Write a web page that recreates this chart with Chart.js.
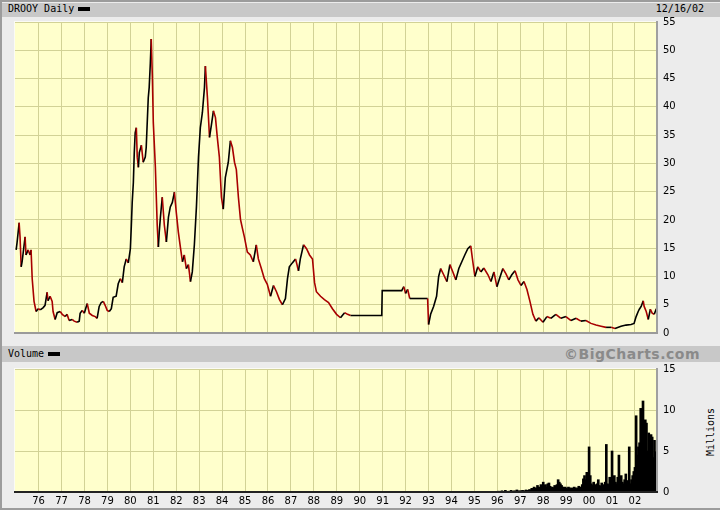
<!DOCTYPE html>
<html><head><meta charset="utf-8">
<script src="https://cdn.jsdelivr.net/npm/chart.js@4/dist/chart.umd.min.js"></script>
<style>
html,body{margin:0;padding:0;}
body{width:720px;height:510px;background:#ececec;position:relative;overflow:hidden;font-family:"DejaVu Sans Mono",monospace;}
.abs{position:absolute;}
.hdr{position:absolute;left:2px;right:0;background:#c8c8c8;}
.mono{font-family:"DejaVu Sans Mono",monospace;font-size:10px;color:#000;white-space:nowrap;}
canvas{position:absolute;left:0;}
</style>
</head><body>
<div class="abs" style="left:0;top:0;width:720px;height:2px;background:#9c9c9c"></div>
<div class="abs" style="left:0;top:0;width:2px;height:510px;background:#9c9c9c"></div>
<div class="abs" style="left:0;top:508px;width:720px;height:2px;background:#9c9c9c"></div>
<div class="hdr" style="top:3px;height:14px"></div>
<div class="abs mono" style="left:8px;top:2px;line-height:14px">DROOY Daily</div>
<div class="abs" style="left:78px;top:7px;width:12px;height:4px;background:#000"></div>
<div class="abs mono" style="right:16px;top:2px;line-height:14px">12/16/02</div>
<div class="hdr" style="top:346px;height:16px"></div>
<div class="abs mono" style="left:8px;top:347px;line-height:14px">Volume</div>
<div class="abs" style="left:48px;top:352px;width:12px;height:4px;background:#000"></div>
<div class="abs" style="right:20px;top:346px;line-height:16px;font-family:'DejaVu Sans',sans-serif;font-weight:bold;font-size:14px;letter-spacing:0.5px;color:#8a8a8a">©BigCharts.com</div>
<div class="abs mono" style="left:710px;top:432px;transform:translate(-50%,-50%) rotate(-90deg);">Millions</div>
<canvas id="price" width="720" height="345" style="top:0"></canvas>
<canvas id="vol" width="720" height="165" style="top:345px"></canvas>
<script>
const yearTicks = [1976,1977,1978,1979,1980,1981,1982,1983,1984,1985,1986,1987,1988,1989,1990,1991,1992,1993,1994,1995,1996,1997,1998,1999,2000,2001,2002];
const yearLabels = ['76','77','78','79','80','81','82','83','84','85','86','87','88','89','90','91','92','93','94','95','96','97','98','99','00','01','02'];
const xMin = 1974.97, xMax = 2002.96;
const priceTicks = [0,5,10,15,20,25,30,35,40,45,50,55];
const volTicks = [0,5,10,15];

const priceYears = [1975.02,1975.06,1975.15,1975.19,1975.24,1975.28,1975.41,1975.45,1975.54,1975.63,1975.67,1975.72,1975.80,1975.89,1975.98,
1976.07,1976.20,1976.28,1976.37,1976.41,1976.50,1976.59,1976.63,1976.72,1976.81,1976.94,
1977.03,1977.16,1977.24,1977.33,1977.46,1977.55,1977.68,1977.77,1977.81,1977.90,1977.99,
1978.12,1978.21,1978.34,1978.47,1978.55,1978.64,1978.73,1978.82,1978.90,1978.99,
1979.08,1979.17,1979.25,1979.38,1979.47,1979.56,1979.65,1979.73,1979.82,1979.91,
1980.00,1980.04,1980.08,1980.13,1980.17,1980.21,1980.26,1980.30,1980.35,1980.39,1980.48,1980.56,1980.65,1980.69,1980.78,1980.82,1980.87,1980.91,1980.96,
1981.00,1981.09,1981.17,1981.22,1981.26,1981.31,1981.39,1981.48,1981.57,1981.66,1981.74,1981.83,1981.92,
1982.00,1982.09,1982.18,1982.27,1982.35,1982.44,1982.53,1982.62,1982.70,1982.79,1982.88,1982.97,
1983.05,1983.14,1983.23,1983.27,1983.36,1983.45,1983.53,1983.62,1983.71,1983.79,1983.88,1983.97,
1984.05,1984.14,1984.27,1984.36,1984.45,1984.54,1984.62,1984.71,1984.80,1984.89,1984.97,
1985.10,1985.23,1985.36,1985.49,1985.58,1985.71,1985.84,1985.97,
1986.11,1986.24,1986.37,1986.50,1986.63,1986.76,1986.85,1986.93,
1987.06,1987.20,1987.33,1987.41,1987.55,1987.68,1987.81,1987.94,
1988.03,1988.11,1988.29,1988.46,1988.64,1988.81,1988.99,
1989.16,1989.34,1989.47,1989.60,1989.73,1990.96,1990.98,
1991.83,1991.92,1992.00,1992.09,1992.18,1992.96,
1993.00,1993.09,1993.22,1993.35,1993.44,1993.53,1993.66,1993.80,1993.93,
1994.06,1994.19,1994.32,1994.45,1994.58,1994.71,1994.84,1994.93,
1995.02,1995.15,1995.28,1995.41,1995.59,1995.72,1995.85,1995.98,
1996.11,1996.24,1996.37,1996.50,1996.63,1996.77,1996.90,
1997.03,1997.16,1997.29,1997.42,1997.55,1997.68,1997.81,1997.99,
1998.16,1998.33,1998.55,1998.77,1998.99,1999.21,1999.43,1999.64,1999.86,
2000.08,2000.30,2000.52,2000.74,2000.96,2001.13,2001.39,2001.61,2001.83,2001.96,
2002.05,2002.14,2002.19,2002.27,2002.36,2002.40,2002.49,2002.58,2002.67,2002.75,2002.84,2002.93,2002.96];
const priceValues = [14.7,16.0,19.5,17.0,11.7,12.6,17.0,13.8,14.7,13.8,14.7,9.6,5.6,3.8,4.3,
4.1,4.5,4.9,7.2,5.7,6.5,5.6,3.8,2.4,3.6,3.8,
3.3,2.9,3.3,2.2,2.4,2.1,1.9,2.1,3.5,4.0,3.5,
5.2,3.5,3.1,2.9,2.6,4.7,5.4,5.6,4.9,4.0,
3.8,4.3,6.3,6.5,8.7,9.6,8.9,11.7,13.1,12.4,
14.9,18.8,23.1,26.6,31.9,35.4,36.3,31.1,29.3,31.9,33.2,30.2,31.1,32.8,41.6,43.4,47.7,52.0,45.1,
37.2,29.3,19.1,15.2,17.9,20.5,24.0,19.1,16.1,20.5,22.3,23.1,24.9,
21.4,17.9,15.2,12.6,13.8,11.4,12.1,9.1,10.8,15.6,22.3,31.1,
36.3,39.0,43.4,47.2,41.6,34.6,36.7,39.3,38.1,34.6,31.1,24.0,
21.9,27.5,30.2,34.0,32.8,30.2,28.9,24.0,20.1,18.4,17.0,
14.3,13.8,12.6,15.6,13.1,11.4,9.6,8.6,
6.5,8.4,7.3,5.9,5.0,6.1,9.6,11.7,
12.4,13.1,11.0,13.1,15.6,14.9,13.8,13.1,
8.9,7.3,6.5,5.9,5.4,4.3,3.3,
2.7,3.6,3.3,3.1,3.1,3.1,7.5,
7.5,8.2,7.0,7.7,6.1,6.1,
1.5,3.3,4.7,6.5,10.0,11.4,10.3,9.1,12.1,
10.8,9.4,11.4,12.6,13.8,14.9,15.4,12.6,
10.0,11.7,10.8,11.5,10.3,9.1,10.8,8.2,
9.8,11.4,10.5,9.4,10.3,11.0,9.4,
8.4,9.1,7.7,5.6,3.3,2.1,2.7,1.9,
2.9,2.6,3.3,2.6,2.9,2.2,2.6,2.1,2.2,
1.7,1.4,1.2,1.0,1.0,0.8,1.2,1.4,1.5,1.7,
2.9,3.8,4.2,4.7,5.7,4.7,3.8,2.4,4.2,3.5,3.3,4.3,4.0];

const volStart = 1996.0, volStep = 0.05;
const volValues = [
0.05,0.1,0,0.05,0.15,0.05,0,0.2,0.05,0.05,0.1,0.05,0.2,0.05,0.1,0.15,0.05,0.25,0.1,0.15,
0.1,0.15,0.2,0.1,0.15,0.25,0.1,0.2,0.3,0.25,0.45,0.3,0.6,0.35,0.5,0.8,0.6,0.5,0.9,0.7,
1.2,0.8,0.9,0.6,1.0,1.1,0.7,0.5,0.6,0.5,0.8,0.6,0.9,1.5,1.2,1.0,0.8,0.6,0.5,0.6,
0.5,0.4,0.6,0.5,0.4,0.5,0.35,0.6,0.5,0.4,0.5,0.7,0.6,0.5,0.9,1.6,2.0,1.5,2.4,1.8,
5.5,2.0,1.0,0.8,1.2,0.9,0.7,1.0,1.5,0.8,0.7,1.1,0.9,0.8,1.2,5.8,1.0,0.9,1.8,1.5,
5.0,1.5,2.0,1.2,1.0,1.8,4.5,1.3,2.0,1.2,1.0,1.5,2.2,1.4,1.2,5.5,1.0,1.5,2.0,2.5,
3.0,9.3,4.5,5.5,6.0,10.2,10.0,11.1,6.5,8.8,8.4,5.0,7.2,4.5,7.0,6.7,4.2,6.3,4.9,4.0];

const UP = '#000000', DOWN = '#a80000';
const BG = '#ffffcc', GRID = '#d2d296';
const tickFont = {family:'DejaVu Sans', size:10};

function panelPlugin(bottomColor){
  return {
    id:'panel',
    beforeDraw(chart){
      const a = chart.chartArea, c = chart.ctx;
      c.save(); c.fillStyle = BG; c.fillRect(a.left, a.top, a.right-a.left, a.bottom-a.top); c.restore();
    },
    afterDraw(chart){
      const a = chart.chartArea, c = chart.ctx;
      c.save();
      c.fillStyle = '#fbfbf4';
      c.fillRect(a.left-1, a.top-1, a.right-a.left+1, 1);
      c.fillRect(a.left-1, a.top-1, 1, a.bottom-a.top+1);
      c.fillStyle = '#a0a0a0';
      c.fillRect(a.right-1, a.top-1, 2, a.bottom-a.top+2);
      c.fillStyle = bottomColor;
      c.fillRect(a.left-1, a.bottom-1, a.right-a.left+2, 2);
      c.restore();
    }
  };
}

function xAxis(showLabels){
  return {
    type:'linear', min:xMin, max:xMax, offset:false,
    afterBuildTicks(s){ s.ticks = yearTicks.map(v=>({value:v})); },
    afterFit(s){ s.height = showLabels ? 18 : 0; },
    grid:{color:GRID, lineWidth:1, drawTicks:false, offset:false},
    border:{display:false},
    ticks:{display:showLabels, font:tickFont, color:'#000', padding:3, maxRotation:0, autoSkip:false,
      callback:(v)=>{ const i = yearTicks.indexOf(v); return i>=0 ? yearLabels[i] : ''; }}
  };
}
function yAxis(ticks){
  return {
    type:'linear', position:'right', min:ticks[0], max:ticks[ticks.length-1],
    afterBuildTicks(s){ s.ticks = ticks.map(v=>({value:v})); },
    afterFit(s){ s.width = 63; },
    grid:{color:GRID, lineWidth:1, drawTicks:false},
    border:{display:false},
    ticks:{font:tickFont, color:'#000', padding:6, autoSkip:false}
  };
}

new Chart(document.getElementById('price'), {
  type:'line',
  data:{datasets:[{
    data: priceYears.map((x,i)=>({x, y:priceValues[i]})),
    borderWidth:1.6, pointRadius:0, tension:0, borderColor:UP,
    segment:{borderColor: ctx => ctx.p1.parsed.y < ctx.p0.parsed.y ? DOWN : UP}
  }]},
  options:{
    responsive:false, animation:false, devicePixelRatio:1,
    layout:{padding:{left:15, top:22, right:0, bottom:8}},
    plugins:{legend:{display:false}, tooltip:{enabled:false}},
    scales:{x:xAxis(false), y:yAxis(priceTicks)}
  },
  plugins:[panelPlugin('#9a9a9a')]
});

new Chart(document.getElementById('vol'), {
  type:'bar',
  data:{datasets:[{
    data: volValues.map((v,i)=>({x: volStart + i*volStep, y:v})),
    backgroundColor:'#000', borderWidth:0, barThickness:2, grouped:false
  }]},
  options:{
    responsive:false, animation:false, devicePixelRatio:1,
    layout:{padding:{left:15, top:24, right:0, bottom:0}},
    plugins:{legend:{display:false}, tooltip:{enabled:false}},
    scales:{x:xAxis(true), y:yAxis(volTicks)}
  },
  plugins:[panelPlugin('#222222')]
});
</script>
</body></html>
